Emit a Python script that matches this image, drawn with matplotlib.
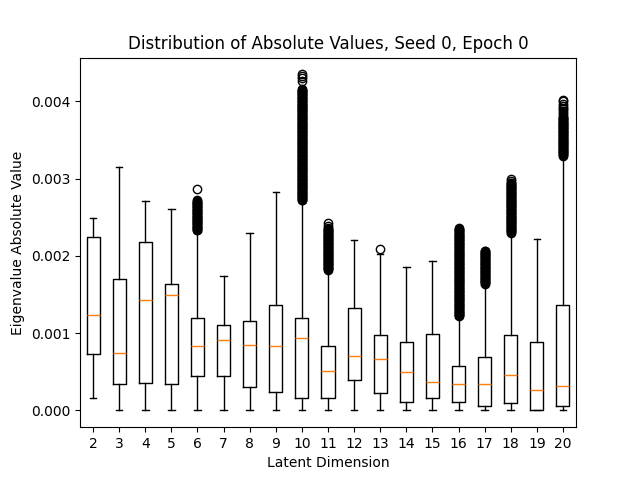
import matplotlib
matplotlib.use("Agg")
import matplotlib.pyplot as plt

dims = [2, 3, 4, 5, 6, 7, 8, 9, 10, 11, 12, 13, 14, 15, 16, 17, 18, 19, 20]
whislo = [0.000164, 0.0, 0.0, 0.00001, 0.0, 0.0, 0.0, 0.0, 0.0, 0.0,
          0.0, 0.0, 0.0, 0.0, 0.0, 0.0, 0.0, 0.0, 0.0]
q1 = [0.00073, 0.000336, 0.000358, 0.000336, 0.00045, 0.00045, 0.000306, 0.00024, 0.000164, 0.000164,
      0.0004, 0.00023, 0.000112, 0.000164, 0.000112, 0.00006, 0.0001, 0.0, 0.00006]
med = [0.00123, 0.000746, 0.00143, 0.0015, 0.00083, 0.000915, 0.00085, 0.00084, 0.00094, 0.00051,
       0.00071, 0.00066, 0.0005, 0.00037, 0.000345, 0.000345, 0.00046, 0.000268, 0.00032]
q3 = [0.00225, 0.0017, 0.00218, 0.00163, 0.0012, 0.00111, 0.00116, 0.00137, 0.0012, 0.00084,
      0.00132, 0.00097, 0.00089, 0.00099, 0.00057, 0.00069, 0.00098, 0.00089, 0.00137]
whishi = [0.00249, 0.00315, 0.00271, 0.00261, 0.00231, 0.00174, 0.0023, 0.00283, 0.0027, 0.0018,
          0.0022, 0.00203, 0.00186, 0.00194, 0.0012, 0.00162, 0.00228, 0.00222, 0.00328]

# Outlier values, in units of 1e-5
fliers_6 = [233, 234, 235, 236, 237, 238, 239, 240, 241, 242, 243, 244, 245, 246, 247, 248, 249, 250,
            251, 252, 253, 254, 255, 256, 257, 258, 259, 260, 261, 262, 263, 264, 265, 266, 267, 268,
            269, 270, 271, 273, 287]
fliers_10 = [272, 273, 274, 275, 276, 277, 278, 279, 280, 281, 282, 283, 284, 285, 286, 287, 288, 289,
             290, 291, 292, 293, 294, 295, 296, 297, 298, 299, 300, 301, 302, 303, 304, 305, 306, 307,
             308, 309, 310, 311, 312, 313, 314, 315, 316, 317, 318, 319, 320, 321, 322, 323, 324, 325,
             326, 327, 328, 329, 330, 331, 332, 333, 334, 335, 336, 337, 338, 339, 340, 341, 342, 343,
             344, 345, 346, 347, 348, 349, 350, 351, 352, 353, 354, 355, 356, 357, 358, 359, 360, 361,
             362, 363, 364, 365, 366, 367, 368, 369, 370, 371, 372, 373, 374, 375, 376, 377, 378, 379,
             380, 381, 382, 383, 384, 385, 386, 387, 388, 389, 390, 391, 392, 393, 394, 395, 396, 397,
             398, 399, 400, 401, 402, 403, 404, 405, 406, 407, 408, 409, 410, 411, 412, 413, 414, 415,
             416, 427, 430, 433, 435]
fliers_11 = [182, 183, 184, 185, 186, 187, 188, 189, 190, 191, 192, 193, 194, 195, 196, 197, 198, 199,
             200, 201, 202, 203, 204, 205, 206, 207, 208, 209, 210, 211, 212, 213, 214, 215, 216, 217,
             218, 219, 220, 221, 222, 223, 224, 225, 226, 227, 228, 229, 230, 231, 232, 233, 234, 235,
             236, 239, 243]
fliers_13 = [209]
fliers_16 = [122, 123, 124, 125, 126, 127, 128, 129, 130, 131, 132, 133, 134, 135, 136, 137, 138, 139,
             140, 141, 142, 143, 144, 145, 146, 147, 148, 149, 150, 151, 152, 153, 154, 155, 156, 157,
             158, 159, 160, 161, 162, 163, 164, 165, 166, 167, 168, 169, 170, 171, 172, 173, 174, 175,
             176, 177, 178, 179, 180, 181, 182, 183, 184, 185, 186, 187, 188, 189, 190, 191, 192, 193,
             194, 195, 196, 197, 198, 199, 200, 201, 202, 203, 204, 205, 206, 207, 208, 209, 210, 211,
             212, 213, 214, 215, 216, 217, 218, 219, 220, 221, 222, 223, 224, 225, 226, 227, 228, 229,
             230, 231, 232, 233, 234, 235, 236]
fliers_17 = [164, 165, 166, 167, 168, 169, 170, 171, 172, 173, 174, 175, 176, 177, 178, 179, 180, 181,
             182, 183, 184, 185, 186, 187, 188, 189, 190, 191, 192, 193, 194, 195, 196, 197, 198, 199,
             200, 201, 202, 203, 204, 205, 206, 207]
fliers_18 = [230, 231, 232, 233, 234, 235, 236, 237, 238, 239, 240, 241, 242, 243, 244, 245, 246, 247,
             248, 249, 250, 251, 252, 253, 254, 255, 256, 257, 258, 259, 260, 261, 262, 263, 264, 265,
             266, 267, 268, 269, 270, 271, 272, 273, 274, 275, 276, 277, 278, 279, 280, 281, 282, 283,
             284, 285, 286, 287, 288, 289, 290, 291, 292, 293, 294, 295, 297, 299]
fliers_20 = [330, 331, 332, 333, 334, 335, 336, 337, 338, 339, 340, 341, 342, 343, 344, 345, 346, 347,
             348, 349, 350, 351, 352, 353, 354, 355, 356, 357, 358, 359, 360, 361, 362, 363, 364, 365,
             366, 367, 368, 369, 370, 371, 372, 373, 374, 375, 376, 377, 378, 379, 380, 382, 385, 388,
             390, 392, 394, 397, 400, 402]

fliers = {6: fliers_6, 10: fliers_10, 11: fliers_11, 13: fliers_13,
          16: fliers_16, 17: fliers_17, 18: fliers_18, 20: fliers_20}

stats = []
for i, d in enumerate(dims):
    stats.append(dict(med=med[i], q1=q1[i], q3=q3[i], whislo=whislo[i], whishi=whishi[i],
                      fliers=[v * 1e-5 for v in fliers.get(d, [])], label=str(d)))

fig, ax = plt.subplots(figsize=(6.4, 4.8), dpi=100)
ax.bxp(stats, positions=list(range(1, len(dims) + 1)))
ax.set_title("Distribution of Absolute Values, Seed 0, Epoch 0")
ax.set_xlabel("Latent Dimension")
ax.set_ylabel("Eigenvalue Absolute Value")
fig.savefig("out.png", dpi=100)
